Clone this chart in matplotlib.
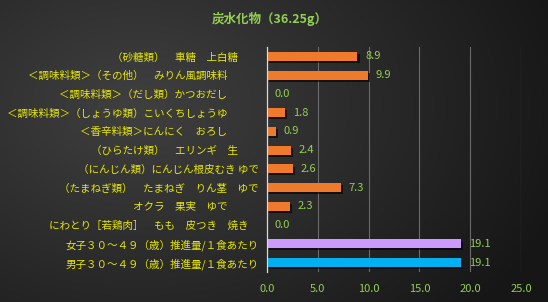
import numpy as np
import matplotlib
matplotlib.use("Agg")
import matplotlib.pyplot as plt
import matplotlib.patheffects as pe

plt.rcParams['font.family'] = ['Noto Sans CJK JP', 'DejaVu Sans']

# data (top to bottom)
labels = [
    "（砂糖類）　車糖　上白糖　　",
    "＜調味料類＞（その他）　みりん風調味料　　　",
    "＜調味料類＞（だし類）かつおだし　　　",
    "＜調味料類＞（しょうゆ類）こいくちしょうゆ　　　",
    "＜香辛料類＞にんにく　おろし　　　",
    "（ひらたけ類）　エリンギ　生　　",
    "（にんじん類）にんじん根皮むき ゆで",
    "（たまねぎ類）　たまねぎ　りん茎　ゆで",
    "オクラ　果実　ゆで　　　",
    "にわとり［若鶏肉］　もも　皮つき　焼き　",
    "女子３０～４９（歳）推進量/１食あたり",
    "男子３０～４９（歳）推進量/１食あたり",
]
values = [8.9, 9.9, 0.0, 1.8, 0.9, 2.4, 2.6, 7.3, 2.3, 0.0, 19.1, 19.1]
bar_colors = ["#f07a2c"] * 10 + ["#cc99ff", "#00b0f0"]
title = "炭水化物（36.25g）"

green = "#92d050"
yellow = "#e8e800"

fig = plt.figure(figsize=(5.48, 3.02), dpi=100)

# background gradient
bg = fig.add_axes([0, 0, 1, 1])
xx, yy = np.meshgrid(np.linspace(0, 1, 300), np.linspace(0, 1, 200))
d = np.sqrt(((xx - 0.25) / 1.0) ** 2 + ((yy - 0.35) / 1.3) ** 2)
shade = 0.25 - 0.16 * np.clip(d / 0.8, 0, 1)
img = np.dstack([shade, shade, shade])
bg.imshow(img, aspect="auto", extent=[0, 1, 0, 1], origin="upper")
bg.axis("off")

ax = fig.add_axes([267 / 548, 1 - 272 / 302, (521 - 267) / 548, (272 - 47) / 302])
ax.patch.set_alpha(0)

y = np.arange(len(values))
bars = ax.barh(y, values, height=0.47, color=bar_colors,
               path_effects=[pe.SimplePatchShadow(offset=(1.5, -1.5), shadow_rgbFace="black", alpha=0.6), pe.Normal()])
for yi, v in zip(y, values):
    ax.text(v + 0.75, yi, f"{v:.1f}", va="center", ha="left", color=green, fontsize=8)

ax.set_ylim(len(values) - 0.5, -0.5)
ax.set_xlim(0, 25)
ax.set_xticks(np.arange(0, 26, 5))
ax.set_xticklabels([f"{t:.1f}" for t in np.arange(0, 26, 5)])
ax.set_yticks(y)
ax.set_yticklabels(labels)
ax.tick_params(axis="y", length=0, pad=6, colors=yellow, labelsize=7.6)
ax.tick_params(axis="x", length=0, pad=9, colors=green, labelsize=8)
ax.grid(axis="x", color="#6a6a6a", linewidth=0.8)
ax.set_axisbelow(True)
for s in ["top", "right", "bottom"]:
    ax.spines[s].set_visible(False)
ax.spines["left"].set_color("#d9d9d9")
ax.spines["left"].set_linewidth(0.9)

fig.text(270 / 548, 1 - 19 / 302, title, ha="center", va="center", color=green,
         fontsize=9, fontweight="bold")

fig.savefig("out.png", dpi=100)
